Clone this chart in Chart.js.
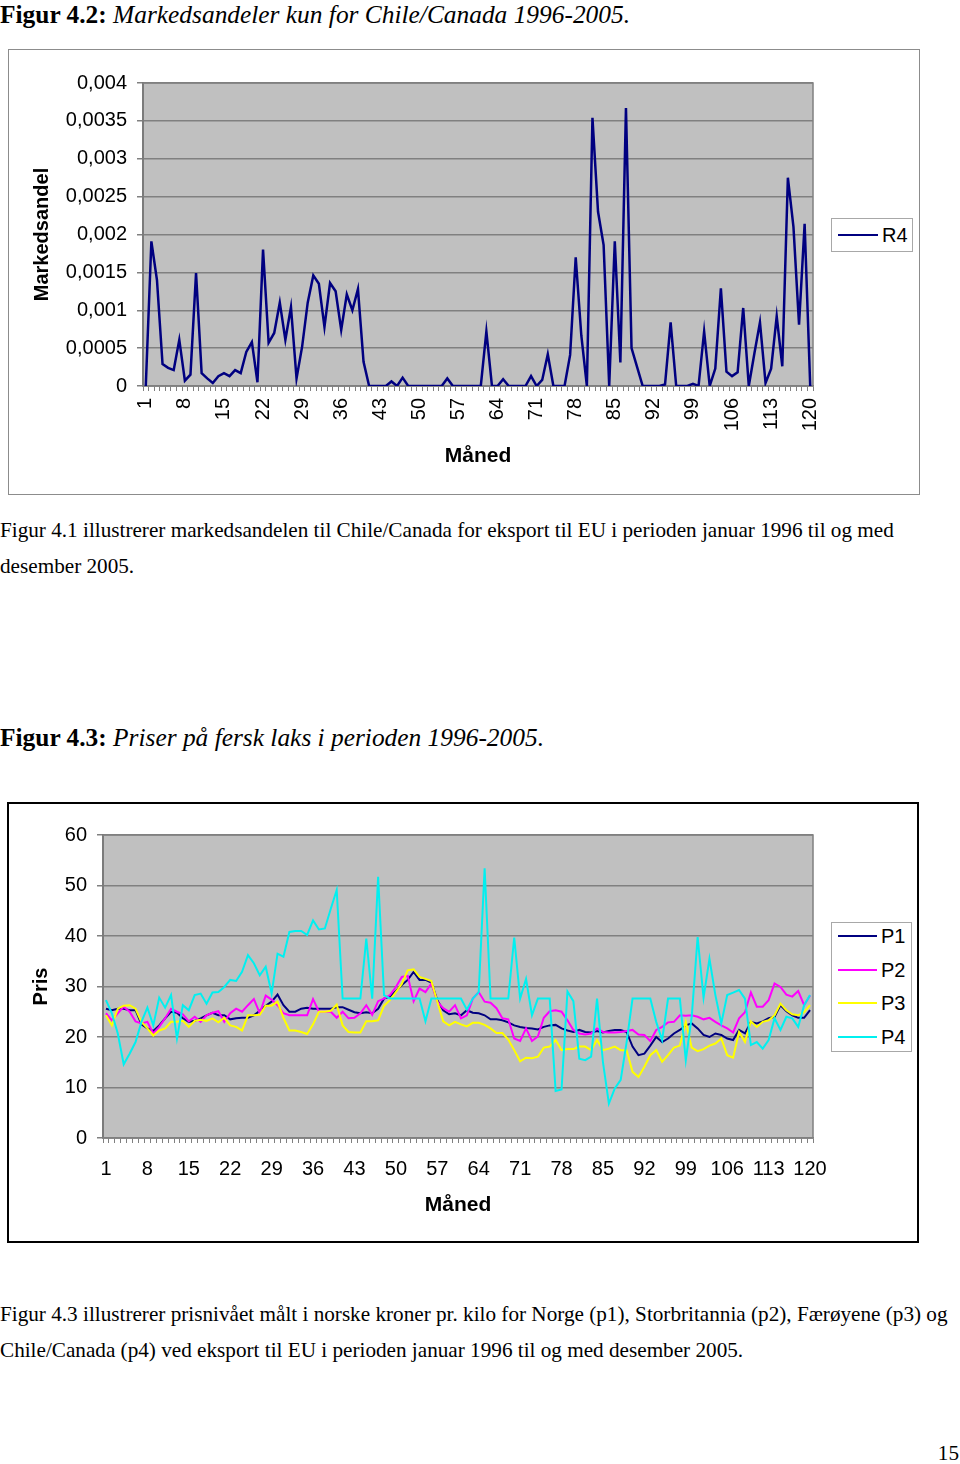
<!DOCTYPE html>
<html>
<head>
<meta charset="utf-8">
<script src="https://cdn.jsdelivr.net/npm/chart.js@4"></script>
<style>
  html, body { margin: 0; padding: 0; background: #fff; }
  body { width: 960px; height: 1464px; position: relative; overflow: hidden;
         font-family: "Liberation Serif", "Times New Roman", serif; color: #000; }
  .abs { position: absolute; white-space: nowrap; }
  .heading { font-size: 25.4px; line-height: 28px; }
  .para { font-size: 21.2px; line-height: 36px; }
  .frame { position: absolute; box-sizing: border-box; pointer-events: none; }
  .legend { position: absolute; box-sizing: border-box; border: 1px solid #a8a8a8; background: #fff;
            font-family: "Liberation Sans", Arial, sans-serif; font-size: 20px; }
  .legend .swatch { position: absolute; height: 2px; }
  .legend .name { position: absolute; line-height: 24px; }
  canvas { position: absolute; }
</style>
</head>
<body>

<div class="abs heading" style="left:0; top:0;"><b>Figur 4.2:</b> <i>Markedsandeler kun for Chile/Canada 1996-2005.</i></div>

<canvas id="shareChart" width="911" height="445" style="left:8px; top:49px;"></canvas>
<div class="frame" style="left:8px; top:49px; width:912px; height:446px; border:1px solid #8c8c8c;"></div>
<div class="legend" id="shareLegend" style="left:831px; top:218px; width:82px; height:34px;"></div>

<div class="abs para" style="left:0; top:512px;">Figur 4.1 illustrerer markedsandelen til Chile/Canada for eksport til EU i perioden januar 1996 til og med<br>desember 2005.</div>

<div class="abs heading" style="left:0; top:723px;"><b>Figur 4.3:</b> <i>Priser på fersk laks i perioden 1996-2005.</i></div>

<canvas id="priceChart" width="911" height="440" style="left:7px; top:802px;"></canvas>
<div class="frame" style="left:7px; top:802px; width:912px; height:441px; border:2px solid #000;"></div>
<div class="legend" id="priceLegend" style="left:831px; top:922px; width:81px; height:130px;"></div>

<div class="abs para" style="left:0; top:1296px;">Figur 4.3 illustrerer prisnivået målt i norske kroner pr. kilo for Norge (p1), Storbritannia (p2), Færøyene (p3) og<br>Chile/Canada (p4) ved eksport til EU i perioden januar 1996 til og med desember 2005.</div>

<div class="abs para" style="right:1px; top:1435px;">15</div>

<script>
// months 1..120 (januar 1996 - desember 2005)
const months = Array.from({ length: 120 }, (_, i) => String(i + 1));
const monthTicks = ["1", "8", "15", "22", "29", "36", "43", "50", "57", "64", "71", "78", "85", "92", "99", "106", "113", "120"];

// Figur 4.2 - market share Chile/Canada
const shareTicks = ["0", "0,0005", "0,001", "0,0015", "0,002", "0,0025", "0,003", "0,0035", "0,004"];
const shareR4 = [
  0, 0.00191, 0.0014, 0.00029, 0.00024, 0.00021, 0.00061, 0.00007, 0.00015, 0.00149,
  0.00017, 0.0001, 0.00004, 0.00013, 0.00017, 0.00013, 0.00021, 0.00017, 0.00045, 0.00058,
  0.00005, 0.0018, 0.00057, 0.0007, 0.0011, 0.00061, 0.00104, 0.0001, 0.00052, 0.0011,
  0.00146, 0.00135, 0.00078, 0.00136, 0.00125, 0.00074, 0.00121, 0.001, 0.00128, 0.00032,
  0, 0, 0, 0, 0.00006, 0, 0.00011, 0, 0, 0,
  0, 0, 0, 0, 0.0001, 0, 0, 0, 0, 0,
  0, 0.00072, 0, 0, 0.00009, 0, 0, 0, 0, 0.00013,
  0, 0.00008, 0.00042, 0, 0, 0, 0.00041, 0.0017, 0.00067, 0,
  0.00354, 0.0023, 0.00186, 0, 0.00191, 0.00031, 0.00367, 0.0005, 0.00025, 0,
  0, 0, 0, 0.00002, 0.00084, 0, 0, 0, 0.00003, 0,
  0.00072, 0, 0.00023, 0.00129, 0.00019, 0.00013, 0.00018, 0.00103, 0, 0.00043,
  0.00084, 0.00004, 0.00023, 0.00092, 0.00026, 0.00275, 0.0021, 0.00081, 0.00214, 0
];

// Figur 4.3 - prices (NOK/kg)
const priceTicks = ["0", "10", "20", "30", "40", "50", "60"];
const priceP1 = [
  25.6, 25.3, 25.6, 25.6, 25.3, 25.3, 22.5, 21.7, 21.2, 22.3,
  23.7, 25.0, 24.8, 23.7, 23.0, 23.2, 23.7, 24.3, 24.8, 24.3,
  24.3, 23.5, 23.7, 23.8, 23.8, 24.3, 25.2, 26.2, 27.0, 28.4,
  26.3, 25.0, 25.0, 25.6, 25.8, 25.6, 25.6, 25.6, 25.6, 25.9,
  25.9, 25.4, 24.9, 24.7, 24.9, 24.7, 25.6, 27.6, 28.0, 29.1,
  30.3, 31.3, 32.9, 31.3, 31.3, 30.8, 27.3, 25.3, 24.5, 24.7,
  24.3, 25.3, 24.8, 24.7, 24.3, 23.5, 23.5, 23.3, 22.9, 22.3,
  22.0, 21.8, 21.7, 21.5, 22.0, 22.3, 22.4, 21.7, 21.3, 21.0,
  21.4, 21.0, 20.9, 21.2, 20.9, 21.2, 21.4, 21.4, 21.0, 18.1,
  16.4, 16.7, 18.3, 20.0, 19.0, 19.7, 20.7, 21.4, 22.3, 22.7,
  21.7, 20.4, 20.0, 20.7, 20.4, 19.7, 19.4, 21.4, 20.7, 23.0,
  22.7, 23.1, 23.7, 24.0, 26.3, 25.1, 24.3, 23.8, 23.8, 25.3
];
const priceP2 = [
  24.7, 23.3, 24.7, 26.0, 25.0, 23.1, 22.7, 23.0, 20.7, 22.0,
  23.7, 25.6, 25.0, 24.5, 23.1, 24.0, 23.0, 24.3, 24.8, 25.1,
  23.0, 24.7, 25.6, 25.0, 26.3, 27.5, 24.7, 28.2, 27.4, 26.3,
  24.7, 24.3, 24.3, 24.3, 24.3, 27.5, 25.0, 25.0, 25.0, 23.8,
  25.0, 23.7, 23.8, 24.7, 26.3, 24.4, 27.1, 27.6, 28.3, 29.9,
  31.9, 32.1, 27.1, 29.6, 28.9, 30.6, 27.0, 25.7, 25.0, 26.3,
  23.7, 24.3, 27.6, 28.9, 27.0, 26.8, 25.7, 23.7, 23.5, 19.7,
  19.2, 21.7, 19.2, 20.1, 23.8, 25.1, 25.3, 25.0, 23.3, 21.4,
  20.7, 20.5, 20.7, 21.7, 21.0, 20.9, 20.9, 21.0, 21.2, 21.4,
  20.5, 20.4, 19.2, 21.4, 22.0, 22.9, 23.0, 24.3, 24.2, 24.3,
  24.0, 23.5, 23.8, 23.0, 22.3, 21.7, 20.9, 23.7, 24.9, 28.8,
  26.0, 26.0, 27.3, 30.6, 29.9, 28.4, 28.0, 29.1, 26.3, 28.2
];
const priceP3 = [
  24.3, 22.3, 25.6, 26.2, 26.3, 25.6, 23.0, 21.7, 20.3, 21.3,
  21.7, 23.0, 23.0, 23.2, 22.0, 23.2, 23.4, 23.2, 23.7, 22.9,
  23.8, 22.3, 22.0, 21.3, 24.3, 24.3, 24.4, 26.2, 26.2, 27.0,
  23.8, 21.3, 21.3, 21.0, 20.6, 22.5, 25.0, 25.0, 25.2, 26.4,
  22.3, 21.0, 20.9, 20.9, 23.1, 23.1, 23.3, 26.2, 27.3, 28.9,
  30.5, 33.2, 33.4, 31.9, 31.5, 31.1, 27.0, 23.1, 22.3, 23.0,
  22.5, 22.1, 22.8, 22.8, 22.4, 21.7, 20.8, 20.8, 19.5, 17.4,
  15.2, 15.9, 15.8, 16.1, 17.9, 18.1, 19.4, 17.4, 17.6, 17.6,
  18.1, 18.1, 17.4, 19.4, 17.4, 17.7, 18.1, 17.4, 17.4, 13.1,
  12.1, 14.1, 16.4, 17.4, 15.1, 16.4, 17.9, 18.3, 23.0, 17.9,
  17.2, 17.6, 18.3, 18.7, 19.7, 16.4, 15.9, 21.0, 19.0, 23.1,
  22.0, 23.0, 23.3, 24.3, 26.6, 25.3, 24.5, 24.3, 24.9, 26.3
];
const priceP4 = [
  27.3, 24.7, 20.7, 14.6, 16.7, 19.0, 23.0, 25.8, 22.3, 27.8,
  25.8, 28.3, 19.7, 26.3, 25.3, 28.3, 28.6, 26.6, 28.8, 28.9,
  29.9, 31.3, 31.1, 32.9, 36.2, 34.6, 32.2, 33.9, 28.6, 36.5,
  35.9, 40.8, 41.0, 41.0, 40.2, 43.1, 41.3, 41.5, 45.4, 49.1,
  27.6, 27.6, 27.6, 27.6, 39.5, 27.6, 51.7, 28.3, 27.6, 27.6,
  27.6, 27.6, 27.6, 27.6, 23.1, 27.6, 27.6, 27.6, 27.6, 27.6,
  27.6, 25.4, 27.6, 28.9, 53.4, 27.6, 27.6, 27.6, 27.6, 39.7,
  27.6, 31.5, 24.3, 27.6, 27.6, 27.6, 9.3, 9.6, 29.0, 27.1,
  15.7, 15.4, 16.1, 27.6, 15.0, 6.8, 9.8, 11.5, 19.0, 27.6,
  27.6, 27.6, 27.6, 23.0, 19.4, 27.6, 27.6, 27.6, 15.4, 24.0,
  39.8, 27.8, 35.5, 28.3, 22.7, 28.3, 28.8, 29.3, 27.6, 18.4,
  19.0, 17.7, 19.4, 23.7, 21.4, 24.0, 23.7, 22.0, 26.3, 28.3
];

const seriesNames = ["P1", "P2", "P3", "P4"];
const seriesColors = ["#000080", "#ff00ff", "#ffff00", "#00f0f0"];

const sans = "'Liberation Sans', Arial, sans-serif";

// gray plot area with a thin frame, like the Excel original
const plotArea = {
  id: "plotArea",
  beforeDraw(chart) {
    const { ctx, chartArea: a } = chart;
    ctx.save();
    ctx.fillStyle = "#c0c0c0";
    ctx.fillRect(a.left, a.top, a.right - a.left, a.bottom - a.top);
    ctx.restore();
  },
  beforeDatasetsDraw(chart) {
    const { ctx, chartArea: a } = chart;
    ctx.save();
    ctx.strokeStyle = "#808080";
    ctx.lineWidth = 1.5;
    ctx.strokeRect(a.left, a.top, a.right - a.left, a.bottom - a.top);
    ctx.restore();
  }
};

function xScale(rotation, padding, height) {
  return {
    offset: true,
    grid: { offset: true, drawOnChartArea: false, drawTicks: true, tickLength: 5, color: "#808080" },
    border: { color: "#808080", width: 1.5 },
    ticks: {
      autoSkip: false, maxRotation: rotation, minRotation: rotation, padding: padding,
      color: "#000", font: { family: sans, size: 20 },
      callback: (v, i) => monthTicks.includes(months[i]) ? months[i] : ""
    },
    title: { display: true, text: "Måned", color: "#000",
             font: { family: sans, size: 21, weight: "bold" }, padding: { top: 0, bottom: 0 } },
    afterFit(s) { s.height = height; }
  };
}

function yScale(max, step, labels, title, width) {
  return {
    min: 0, max: max,
    grid: { color: "#808080", lineWidth: 1.5, tickLength: 6, tickColor: "#808080" },
    border: { color: "#6e6e6e", width: 2 },
    ticks: {
      stepSize: step, padding: 10, color: "#000", font: { family: sans, size: 20 },
      callback: v => labels[Math.round(v / step)]
    },
    title: { display: true, text: title, color: "#000",
             font: { family: sans, size: 20, weight: "bold" }, padding: { top: 2, bottom: 0 } },
    afterFit(s) { s.width = width; }
  };
}

new Chart(document.getElementById("shareChart"), {
  type: "line",
  data: {
    labels: months,
    datasets: [{ label: "R4", data: shareR4, borderColor: "#000080", borderWidth: 2.5,
                 pointRadius: 0, tension: 0, fill: false }]
  },
  options: {
    responsive: false, animation: false,
    layout: { padding: { left: 20, top: 34, right: 106, bottom: 25 } },
    plugins: { legend: { display: false }, tooltip: { enabled: false } },
    scales: {
      x: xScale(90, 7, 83),
      y: yScale(0.004, 0.0005, shareTicks, "Markedsandel", 115)
    }
  },
  plugins: [plotArea]
});

const priceSeries = [priceP1, priceP2, priceP3, priceP4];
new Chart(document.getElementById("priceChart"), {
  type: "line",
  data: {
    labels: months,
    datasets: priceSeries.map((d, k) => ({
      label: seriesNames[k], data: d, borderColor: seriesColors[k], borderWidth: 2,
      pointRadius: 0, tension: 0, fill: false, order: 4 - k
    }))
  },
  options: {
    responsive: false, animation: false,
    layout: { padding: { left: 20, top: 33, right: 105, bottom: 24 } },
    plugins: { legend: { display: false }, tooltip: { enabled: false } },
    scales: {
      x: xScale(0, 14, 80),
      y: yScale(60, 10, priceTicks, "Pris", 76)
    }
  },
  plugins: [plotArea]
});

// legends
function makeLegend(id, names, colors, firstY, step, lineW) {
  const box = document.getElementById(id);
  names.forEach((n, k) => {
    const y = firstY + k * step;
    const sw = document.createElement("div");
    sw.className = "swatch";
    sw.style.cssText = `left:6px; top:${y - 1}px; width:${lineW}px; background:${colors[k]};`;
    const tx = document.createElement("div");
    tx.className = "name";
    tx.style.cssText = `left:${lineW + 10}px; top:${y - 12}px;`;
    tx.textContent = n;
    box.appendChild(sw);
    box.appendChild(tx);
  });
}
makeLegend("shareLegend", ["R4"], ["#000080"], 16, 0, 40);
makeLegend("priceLegend", seriesNames, seriesColors, 13, 33.5, 39);
</script>
</body>
</html>
